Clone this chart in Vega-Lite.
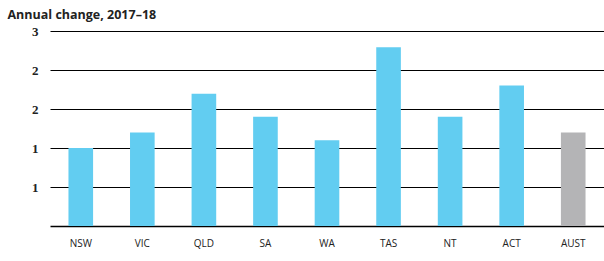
{
  "$schema": "https://vega.github.io/schema/vega-lite/v6.json",
  "autosize": {"type": "none"},
  "width": 554,
  "height": 195,
  "padding": {"left": 50, "top": 31, "right": 0, "bottom": 35},
  "background": "white",
  "data": {"values": [
    {"state": "NSW", "value": 1.2, "group": "state"},
    {"state": "VIC", "value": 1.44, "group": "state"},
    {"state": "QLD", "value": 2.035, "group": "state"},
    {"state": "SA", "value": 1.68, "group": "state"},
    {"state": "WA", "value": 1.32, "group": "state"},
    {"state": "TAS", "value": 2.75, "group": "state"},
    {"state": "NT", "value": 1.68, "group": "state"},
    {"state": "ACT", "value": 2.16, "group": "state"},
    {"state": "AUST", "value": 1.44, "group": "aust"}
  ]},
  "config": {"view": {"stroke": null}},
  "mark": {"type": "bar"},
  "encoding": {
    "x": {
      "field": "state", "type": "nominal", "sort": null,
      "scale": {"paddingInner": 0.6, "paddingOuter": 0.3},
      "axis": {
        "title": null, "labelAngle": 0, "ticks": false,
        "domainColor": "black", "domainWidth": 1.5,
        "labelFont": "Open Sans", "labelFontSize": 10, "labelColor": "#222",
        "labelPadding": 12
      }
    },
    "y": {
      "field": "value", "type": "quantitative",
      "scale": {"domain": [0, 3], "nice": false},
      "axis": {
        "values": [0.6, 1.2, 1.8, 2.4, 3.0], "format": ".0f",
        "ticks": false, "domain": false,
        "grid": true, "gridColor": "black", "gridWidth": 1,
        "labelFont": "Liberation Serif", "labelFontWeight": "bold", "labelFontSize": 13,
        "labelColor": "#222", "labelPadding": 12,
        "title": "Annual change, 2017–18",
        "titleAngle": 0, "titleAlign": "left", "titleBaseline": "alphabetic",
        "titleX": -43, "titleY": -13,
        "titleFont": "Open Sans", "titleFontSize": 12.5, "titleFontWeight": "bold", "titleColor": "#222"
      }
    },
    "color": {
      "field": "group", "type": "nominal",
      "scale": {"domain": ["state", "aust"], "range": ["#62cdf1", "#b4b4b6"]},
      "legend": null
    }
  }
}
